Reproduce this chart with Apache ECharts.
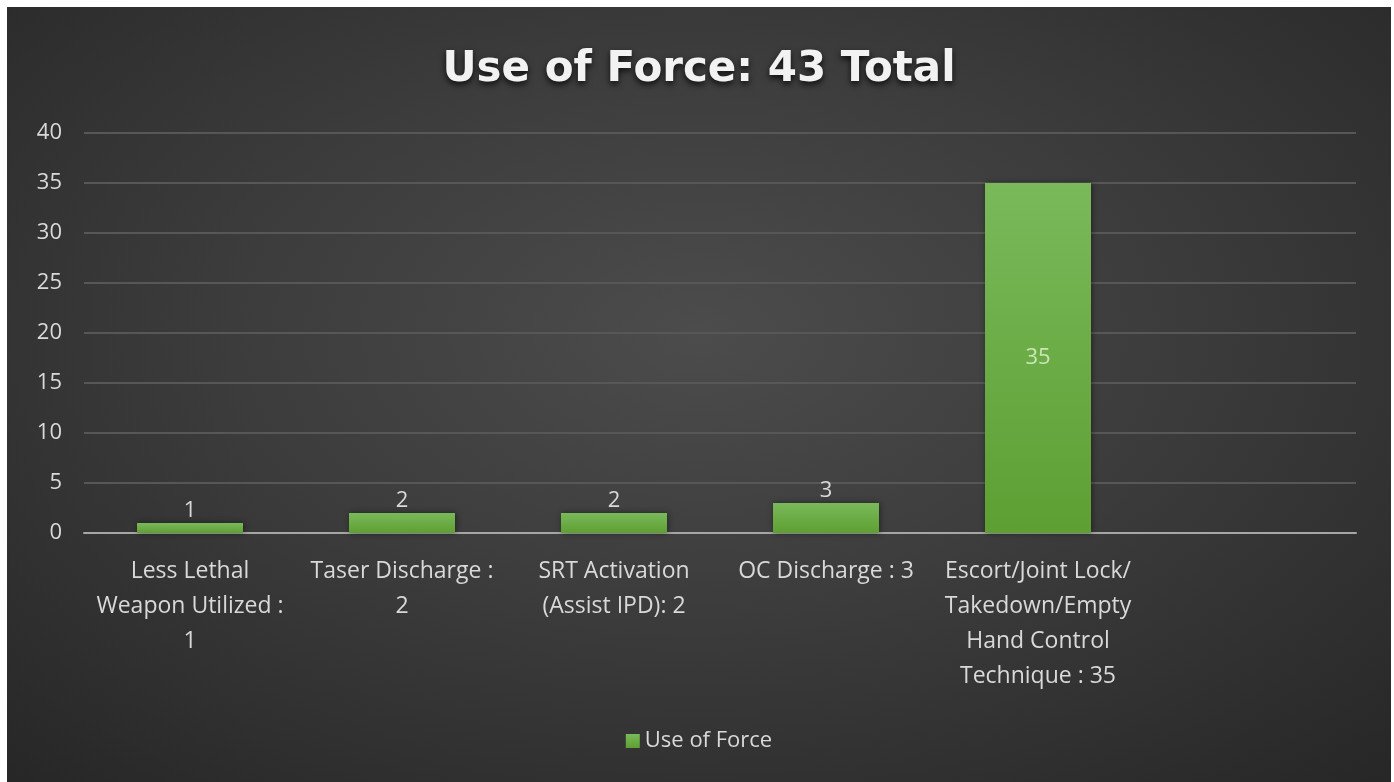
<!DOCTYPE html>
<html>
<head>
<meta charset="utf-8">
<script src="https://cdn.jsdelivr.net/npm/echarts@6/dist/echarts.min.js"></script>
<style>
  html, body { margin: 0; padding: 0; background: #ffffff; }
  #frame {
    position: absolute; left: 7px; top: 7px; width: 1384px; height: 775px;
    background: radial-gradient(ellipse 75% 80% at 50% 42%, #4c4c4c 0%, #3c3c3c 45%, #262626 100%);
  }
  #chart { width: 100%; height: 100%; }
</style>
</head>
<body>
<div id="frame"><div id="chart"></div></div>
<script>
  // Use of force incidents by type
  const categories = [
    'Less Lethal\nWeapon Utilized :\n1',
    'Taser Discharge :\n2',
    'SRT Activation\n(Assist IPD): 2',
    'OC Discharge : 3',
    'Escort/Joint Lock/\nTakedown/Empty\nHand Control\nTechnique : 35',
    ''
  ]
  const values = [1, 2, 2, 3, 35, null]
  const yTicks = [0, 5, 10, 15, 20, 25, 30, 35, 40]

  const font = '"Open Sans", Lato, sans-serif'
  const textColor = '#d9d9d9'

  const chart = echarts.init(document.getElementById('chart'))

  const barData = values.map(v => {
    if (v === null) return null
    // tall bars get their label inside, short ones on top
    if (v > 10) {
      return { value: v, label: { position: 'inside', color: '#c9e6b6' } }
    }
    return { value: v }
  })

  const option = {
    backgroundColor: 'transparent',
    title: {
      text: 'Use of Force: 43 Total',
      left: 'center',
      top: 37,
      textStyle: {
        fontFamily: '"DejaVu Sans", sans-serif',
        fontSize: 42,
        fontWeight: 'bold',
        color: '#f2f2f2',
        textShadowColor: 'rgba(0,0,0,0.8)',
        textShadowBlur: 6,
        textShadowOffsetY: 3
      }
    },
    legend: {
      bottom: 25,
      left: 'center',
      itemWidth: 14,
      itemHeight: 14,
      itemGap: 8,
      icon: 'rect',
      textStyle: { fontFamily: font, fontSize: 22, color: textColor },
      data: ['Use of Force']
    },
    grid: {
      left: 77,
      right: 35,
      top: 126,
      bottom: 249
    },
    xAxis: {
      type: 'category',
      data: categories,
      axisTick: { show: false },
      axisLine: { lineStyle: { color: '#a6a6a6', width: 2 } },
      axisLabel: {
        interval: 0,
        margin: 21,
        fontFamily: font,
        fontSize: 23,
        lineHeight: 35,
        color: textColor,
        align: 'center'
      }
    },
    yAxis: {
      type: 'value',
      min: yTicks[0],
      max: yTicks[yTicks.length - 1],
      interval: 5,
      axisLine: { show: false },
      axisTick: { show: false },
      axisLabel: {
        margin: 22,
        fontFamily: font,
        fontSize: 22,
        color: textColor
      },
      splitLine: { lineStyle: { color: '#575757', width: 2 } }
    },
    series: [
      {
        name: 'Use of Force',
        type: 'bar',
        data: barData,
        barWidth: '50%',
        itemStyle: {
          color: new echarts.graphic.LinearGradient(0, 0, 0, 1, [
            { offset: 0, color: '#7ab95a' },
            { offset: 1, color: '#5e9f33' }
          ]),
          shadowColor: 'rgba(0,0,0,0.45)',
          shadowBlur: 6,
          shadowOffsetX: 1
        },
        label: {
          show: true,
          position: 'top',
          distance: 1,
          fontFamily: font,
          fontSize: 22,
          color: textColor
        }
      }
    ]
  }

  chart.setOption(option)
  window.addEventListener('resize', () => chart.resize())
</script>
</body>
</html>
